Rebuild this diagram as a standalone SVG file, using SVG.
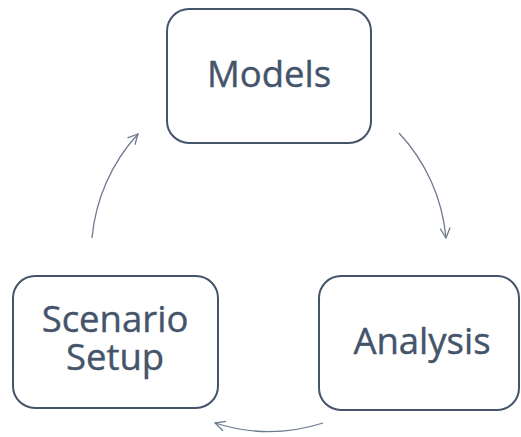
<svg xmlns="http://www.w3.org/2000/svg" width="521" height="437" viewBox="0 0 521 437">
  <style>
    .box { fill: #ffffff; stroke: #44546A; stroke-width: 2; }
    .label { font-family: "Open Sans", "Liberation Sans", sans-serif; font-size: 36.5px; fill: #44546A; stroke: #44546A; stroke-width: 0.4; text-anchor: middle; }
    .link { fill: none; stroke: #6E7A8E; stroke-width: 1.3; marker-end: url(#arrow); }
  </style>
  <defs>
    <marker id="arrow" viewBox="0 0 12 12" refX="11" refY="6" markerWidth="12" markerHeight="12" markerUnits="userSpaceOnUse" orient="auto">
      <path d="M1 1 L11 6 L1 11" fill="none" stroke="#6E7A8E" stroke-width="1.3"/>
    </marker>
  </defs>
  <rect width="521" height="437" fill="#ffffff"/>
  <g id="connectors">
    <path class="link" d="M 399 133 A 177 177 0 0 1 446 238"/>
    <path class="link" d="M 323 423 A 177 177 0 0 1 215 423"/>
    <path class="link" d="M 92 238 A 177 177 0 0 1 138 134"/>
  </g>
  <g id="models">
    <rect class="box" x="167" y="9" width="204" height="134" rx="22"/>
    <text class="label" x="269" y="87">Models</text>
  </g>
  <g id="analysis">
    <rect class="box" x="319" y="276" width="200" height="134" rx="22"/>
    <text class="label" x="422" y="354">Analysis</text>
  </g>
  <g id="scenario-setup">
    <rect class="box" x="13" y="276" width="205" height="132" rx="22"/>
    <text class="label"><tspan x="115" y="332">Scenario</tspan><tspan x="115" y="370">Setup</tspan></text>
  </g>
</svg>
